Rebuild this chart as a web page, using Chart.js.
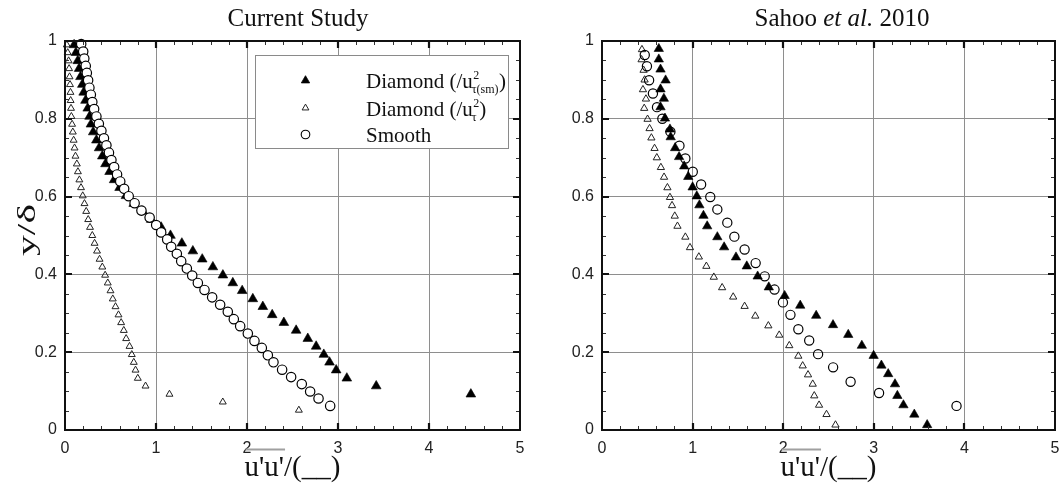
<!DOCTYPE html>
<html>
<head>
<meta charset="utf-8">
<script src="https://cdn.jsdelivr.net/npm/chart.js@4.4.1/dist/chart.umd.min.js"></script>
<style>
  html, body { margin: 0; padding: 0; background: #fff; }
  #wrap { position: relative; width: 1061px; height: 483px; overflow: hidden; background: #fff; }
  #wrap canvas { position: absolute; top: 0; }
</style>
</head>
<body>
<div id="wrap">
  <canvas id="current" width="530" height="483" style="left:0"></canvas>
  <canvas id="sahoo" width="531" height="483" style="left:530px"></canvas>
</div>
<script>
// ---------- Current Study: streamwise normal stress profiles ----------
const curDiamondSmX = [0.10,0.12,0.14,0.155,0.17,0.19,0.205,0.225,0.25,0.27,
  0.285,0.31,0.345,0.375,0.41,0.445,0.49,0.54,0.60,0.67,
  0.755,0.855,0.947,1.057,1.159,1.284,1.405,1.508,1.625,1.735,
  1.844,1.947,2.064,2.174,2.277,2.405,2.54,2.668,2.76,2.844,
  2.907,2.98,3.097,3.42,4.46];
const curDiamondSmY = [0.990,0.970,0.949,0.929,0.908,0.888,0.868,0.847,0.827,0.806,
  0.786,0.766,0.745,0.725,0.704,0.684,0.664,0.643,0.623,0.602,
  0.582,0.562,0.541,0.521,0.500,0.480,0.460,0.439,0.419,0.398,
  0.378,0.358,0.337,0.317,0.296,0.276,0.256,0.235,0.215,0.194,
  0.174,0.154,0.133,0.113,0.092];

const curDiamondX = [0.02,0.03,0.04,0.045,0.05,0.055,0.06,0.062,0.066,0.07,
  0.078,0.086,0.095,0.105,0.115,0.13,0.142,0.158,0.176,0.195,
  0.214,0.233,0.255,0.275,0.30,0.325,0.352,0.38,0.41,0.441,
  0.47,0.50,0.525,0.555,0.588,0.617,0.646,0.672,0.709,0.734,
  0.756,0.775,0.80,0.885,1.148,1.734,2.57];
const curDiamondY = [0.990,0.970,0.949,0.929,0.908,0.888,0.868,0.847,0.827,0.806,
  0.786,0.766,0.745,0.725,0.704,0.684,0.664,0.643,0.623,0.602,
  0.582,0.562,0.541,0.521,0.500,0.480,0.460,0.439,0.419,0.398,
  0.378,0.358,0.337,0.317,0.296,0.276,0.256,0.235,0.215,0.194,
  0.174,0.154,0.133,0.113,0.092,0.072,0.051];

const curSmoothX = [0.178,0.200,0.212,0.228,0.240,0.254,0.268,0.284,0.300,0.320,
  0.345,0.372,0.400,0.428,0.455,0.483,0.510,0.540,0.572,0.607,
  0.650,0.700,0.765,0.840,0.930,1.002,1.057,1.123,1.167,1.229,
  1.277,1.339,1.398,1.460,1.533,1.617,1.705,1.789,1.855,1.925,
  2.009,2.082,2.163,2.229,2.291,2.386,2.485,2.602,2.694,2.786,
  2.914];
const curSmoothY = [0.992,0.973,0.955,0.936,0.918,0.899,0.880,0.862,0.843,0.825,
  0.806,0.787,0.769,0.750,0.732,0.713,0.694,0.676,0.657,0.639,
  0.620,0.601,0.583,0.564,0.546,0.527,0.508,0.490,0.471,0.453,
  0.434,0.415,0.397,0.378,0.360,0.341,0.322,0.304,0.285,0.267,
  0.248,0.229,0.211,0.192,0.174,0.155,0.136,0.118,0.099,0.081,
  0.062];

// ---------- Sahoo et al. 2010 ----------
const sahDiamondSmX = [0.627,0.627,0.646,0.702,0.646,0.683,0.646,0.695,0.75,0.758,
  0.807,0.851,0.907,0.952,1.0,1.046,1.075,1.12,1.161,1.273,
  1.348,1.479,1.598,1.718,1.841,2.016,2.188,2.364,2.55,2.718,
  2.868,2.998,3.084,3.159,3.234,3.26,3.327,3.447,3.589];
const sahDiamondSmY = [0.98,0.953,0.927,0.899,0.876,0.852,0.83,0.801,0.773,0.753,
  0.725,0.702,0.678,0.651,0.624,0.601,0.578,0.551,0.524,0.496,
  0.47,0.444,0.421,0.395,0.367,0.345,0.32,0.294,0.27,0.245,
  0.217,0.191,0.166,0.144,0.118,0.088,0.064,0.04,0.013];

const sahDiamondX = [0.441,0.437,0.459,0.47,0.452,0.485,0.466,0.503,0.525,0.545,
  0.58,0.605,0.65,0.685,0.722,0.75,0.773,0.803,0.833,0.92,
  0.971,1.069,1.152,1.234,1.326,1.448,1.574,1.692,1.836,1.956,
  2.067,2.167,2.215,2.274,2.326,2.343,2.396,2.478,2.577];
const sahDiamondY = [0.978,0.952,0.925,0.90,0.875,0.851,0.827,0.799,0.775,0.751,
  0.724,0.70,0.675,0.65,0.623,0.598,0.577,0.55,0.524,0.496,
  0.469,0.445,0.421,0.393,0.366,0.342,0.318,0.293,0.268,0.244,
  0.217,0.19,0.165,0.142,0.118,0.088,0.064,0.04,0.013];

const sahSmoothX = [0.472,0.496,0.52,0.562,0.607,0.666,0.755,0.855,0.92,1.002,
  1.094,1.195,1.273,1.383,1.461,1.574,1.696,1.796,1.904,1.997,
  2.08,2.167,2.287,2.385,2.551,2.744,3.058,3.913];
const sahSmoothY = [0.964,0.935,0.899,0.865,0.83,0.8,0.767,0.731,0.698,0.664,
  0.631,0.599,0.567,0.533,0.497,0.464,0.429,0.395,0.361,0.328,
  0.296,0.259,0.23,0.195,0.161,0.124,0.095,0.062];

// ---------- axis ticks, titles and legend text ----------
const xTickLabels = ['0', '1', '2', '3', '4', '5'];
const yTickLabels = ['0', '0.2', '0.4', '0.6', '0.8', '1'];
const curTitle = [['Current Study', 'normal']];
const sahTitle = [['Sahoo ', 'normal'], ['et al.', 'italic'], [' 2010', 'normal']];
const xTitleText = "u'u'/(__)";
const xTitleOverlined = "u'u'";
const yTitleText = 'y/\u03B4';
const legendLabels = [
  { main: 'Diamond (/u', sup: '2', sub: '\u03C4(sm)', tail: ')' },
  { main: 'Diamond (/u', sup: '2', sub: '\u03C4', tail: ')' },
  { main: 'Smooth', sup: '', sub: '', tail: '' }
];

const SERIF = "'Liberation Serif', 'Times New Roman', serif";
const SANS = "'Liberation Sans', Arial, sans-serif";
const GRID = '#8e8e8e';
const INK = '#111';

function pts(xs, ys) { return xs.map((x, i) => ({ x, y: ys[i] })); }

function markerPath(ctx, kind, x, y, r) {
  ctx.beginPath();
  if (kind === 'circle') {
    ctx.arc(x, y, r, 0, Math.PI * 2);
  } else {
    for (let k = 0; k < 3; k++) {
      const ang = k * 2 * Math.PI / 3;
      const px = x + Math.sin(ang) * r, py = y - Math.cos(ang) * r;
      if (k === 0) ctx.moveTo(px, py); else ctx.lineTo(px, py);
    }
    ctx.closePath();
  }
}

function drawFrame(chart) {
  const { ctx, chartArea: a } = chart;
  const xs = chart.scales.x, ys = chart.scales.y;
  ctx.save();
  // minor ticks: every 0.2 along x, every 0.05 along y, pointing inward on all sides
  ctx.strokeStyle = '#333';
  ctx.lineWidth = 1;
  ctx.beginPath();
  for (let i = 1; i < 25; i++) {
    if (i % 5 === 0) continue;
    const px = Math.round(xs.getPixelForValue(i * 0.2)) + 0.5;
    ctx.moveTo(px, a.bottom); ctx.lineTo(px, a.bottom - 4);
    ctx.moveTo(px, a.top); ctx.lineTo(px, a.top + 4);
  }
  for (let i = 1; i < 20; i++) {
    if (i % 4 === 0) continue;
    const py = Math.round(ys.getPixelForValue(i * 0.05)) + 0.5;
    ctx.moveTo(a.left, py); ctx.lineTo(a.left + 4, py);
    ctx.moveTo(a.right, py); ctx.lineTo(a.right - 4, py);
  }
  ctx.stroke();
  // major ticks
  ctx.strokeStyle = INK;
  ctx.lineWidth = 2.2;
  ctx.beginPath();
  for (let i = 1; i < 5; i++) {
    const px = Math.round(xs.getPixelForValue(i));
    ctx.moveTo(px, a.bottom); ctx.lineTo(px, a.bottom - 7);
    ctx.moveTo(px, a.top); ctx.lineTo(px, a.top + 7);
  }
  for (let i = 1; i < 5; i++) {
    const py = Math.round(ys.getPixelForValue(i * 0.2));
    ctx.moveTo(a.left, py); ctx.lineTo(a.left + 7, py);
    ctx.moveTo(a.right, py); ctx.lineTo(a.right - 7, py);
  }
  ctx.stroke();
  // plot frame
  ctx.lineWidth = 2;
  ctx.strokeRect(a.left, a.top, a.right - a.left, a.bottom - a.top);
  ctx.restore();
}

function drawSegments(ctx, segs, cx, baseY, size) {
  let total = 0;
  segs.forEach(([t, st]) => { ctx.font = `${st} ${size}px ${SERIF}`; total += ctx.measureText(t).width; });
  let x = cx - total / 2;
  ctx.textAlign = 'left';
  segs.forEach(([t, st]) => {
    ctx.font = `${st} ${size}px ${SERIF}`;
    ctx.fillText(t, x, baseY);
    x += ctx.measureText(t).width;
  });
}

function drawLegend(ctx, box) {
  ctx.save();
  ctx.fillStyle = '#fff';
  ctx.fillRect(box.x, box.y, box.w, box.h);
  ctx.strokeStyle = '#8a8a8a';
  ctx.lineWidth = 1;
  ctx.strokeRect(box.x + 0.5, box.y + 0.5, box.w, box.h);
  const kinds = [
    { kind: 'tri', r: 4.8, fill: '#000', stroke: '#000', lw: 0.8 },
    { kind: 'tri', r: 3.9, fill: null, stroke: '#222', lw: 1 },
    { kind: 'circle', r: 4.3, fill: null, stroke: '#000', lw: 1.1 }
  ];
  legendLabels.forEach((lab, i) => {
    const base = box.rowBase[i];
    const m = kinds[i];
    markerPath(ctx, m.kind, box.markerX, base - 7.5, m.r);
    if (m.fill) { ctx.fillStyle = m.fill; ctx.fill(); }
    ctx.strokeStyle = m.stroke; ctx.lineWidth = m.lw; ctx.stroke();
    ctx.fillStyle = INK;
    ctx.textAlign = 'left';
    ctx.font = `21px ${SERIF}`;
    ctx.fillText(lab.main, box.textX, base);
    let x = box.textX + ctx.measureText(lab.main).width;
    if (lab.sup || lab.sub) {
      ctx.font = `12px ${SERIF}`;
      ctx.fillText(lab.sup, x + 0.5, base - 9);
      ctx.fillText(lab.sub, x - 1, base + 5);
      x += Math.max(ctx.measureText(lab.sup).width, ctx.measureText(lab.sub).width - 1) + 0.5;
    }
    if (lab.tail) {
      ctx.font = `21px ${SERIF}`;
      ctx.fillText(lab.tail, x, base);
    }
  });
  ctx.restore();
}

const decor = {
  id: 'decor',
  afterDraw(chart, args, o) {
    const ctx = chart.ctx, a = chart.chartArea;
    drawFrame(chart);
    ctx.save();
    ctx.fillStyle = INK;
    ctx.textBaseline = 'alphabetic';
    // panel title
    drawSegments(ctx, o.title, o.titleX, 26, 25);
    // x axis title with overline
    const cx = (a.left + a.right) / 2;
    ctx.font = `29px ${SERIF}`;
    ctx.textAlign = 'left';
    const w = ctx.measureText(xTitleText).width;
    const x0 = cx - w / 2;
    ctx.fillText(xTitleText, x0, 476);
    const wo = ctx.measureText(xTitleOverlined).width;
    ctx.strokeStyle = '#a0a0a0';
    ctx.lineWidth = 2;
    ctx.beginPath();
    ctx.moveTo(x0 + 1, 449.5);
    ctx.lineTo(x0 + wo + 1, 449.5);
    ctx.stroke();
    // y axis title
    if (o.yTitle) {
      ctx.save();
      ctx.translate(o.yTitleX, o.yTitleY);
      ctx.rotate(-Math.PI / 2);
      ctx.font = `26px ${SERIF}`;
      const tw = ctx.measureText(yTitleText).width;
      ctx.scale(o.yTitleLen / tw, 1);
      ctx.textAlign = 'center';
      ctx.fillText(yTitleText, 0, 8);
      ctx.restore();
    }
    if (o.legend) drawLegend(ctx, o.legend);
    ctx.restore();
  }
};

function makeChart(id, datasets, decorOpts, yWidth, padRight) {
  return new Chart(document.getElementById(id), {
    type: 'scatter',
    data: { datasets },
    options: {
      responsive: false,
      animation: false,
      devicePixelRatio: 1,
      events: [],
      layout: { padding: { left: 0, right: padRight, top: 41, bottom: 0 } },
      plugins: { legend: { display: false }, tooltip: { enabled: false }, decor: decorOpts },
      scales: {
        x: {
          type: 'linear', min: 0, max: 5,
          afterBuildTicks: s => { s.ticks = xTickLabels.map(t => ({ value: Number(t) })); },
          afterFit: s => { s.height = 53; s.paddingLeft = 0; s.paddingRight = 0; },
          grid: { color: GRID, lineWidth: 1, drawTicks: false },
          border: { display: false },
          ticks: {
            padding: 9, maxRotation: 0, minRotation: 0, autoSkip: false,
            color: '#222', font: { family: SANS, size: 16 },
            callback: (v, i) => xTickLabels[i]
          }
        },
        y: {
          type: 'linear', min: 0, max: 1,
          afterBuildTicks: s => { s.ticks = yTickLabels.map(t => ({ value: Number(t) })); },
          afterFit: s => { s.width = yWidth; s.paddingTop = 0; s.paddingBottom = 0; },
          grid: { color: GRID, lineWidth: 1, drawTicks: false },
          border: { display: false },
          ticks: {
            padding: 8, autoSkip: false,
            color: '#222', font: { family: SANS, size: 16 },
            callback: (v, i) => yTickLabels[i]
          }
        }
      }
    },
    plugins: [decor]
  });
}

makeChart('current', [
  { label: 'Smooth', data: pts(curSmoothX, curSmoothY), order: 0, clip: false,
    pointStyle: 'circle', pointRadius: 4.7, pointBackgroundColor: '#fff',
    pointBorderColor: '#000', pointBorderWidth: 1.2, showLine: false },
  { label: 'Diamond (sm)', data: pts(curDiamondSmX, curDiamondSmY), order: 1, clip: false,
    pointStyle: 'triangle', pointRadius: 5.6, pointBackgroundColor: '#000',
    pointBorderColor: '#000', pointBorderWidth: 0.6, showLine: false },
  { label: 'Diamond', data: pts(curDiamondX, curDiamondY), order: 2, clip: false,
    pointStyle: 'triangle', pointRadius: 4.0, pointBackgroundColor: 'rgba(255,255,255,0)',
    pointBorderColor: '#222', pointBorderWidth: 1, showLine: false }
], {
  title: curTitle, titleX: 298, yTitle: true, yTitleX: 27, yTitleY: 230, yTitleLen: 52,
  legend: { x: 255, y: 55, w: 253, h: 93, markerX: 305.5, textX: 366, rowBase: [88, 115.5, 142] }
}, 65, 10);

makeChart('sahoo', [
  { label: 'Smooth', data: pts(sahSmoothX, sahSmoothY), order: 0, clip: false,
    pointStyle: 'circle', pointRadius: 4.6, pointBackgroundColor: 'rgba(255,255,255,0)',
    pointBorderColor: '#000', pointBorderWidth: 1.2, showLine: false },
  { label: 'Diamond (sm)', data: pts(sahDiamondSmX, sahDiamondSmY), order: 1, clip: false,
    pointStyle: 'triangle', pointRadius: 5.4, pointBackgroundColor: '#000',
    pointBorderColor: '#000', pointBorderWidth: 0.6, showLine: false },
  { label: 'Diamond', data: pts(sahDiamondX, sahDiamondY), order: 2, clip: false,
    pointStyle: 'triangle', pointRadius: 4.2, pointBackgroundColor: 'rgba(255,255,255,0)',
    pointBorderColor: '#222', pointBorderWidth: 1, showLine: false }
], {
  title: sahTitle, titleX: 312, yTitle: false, legend: null
}, 72, 3);
</script>
</body>
</html>
